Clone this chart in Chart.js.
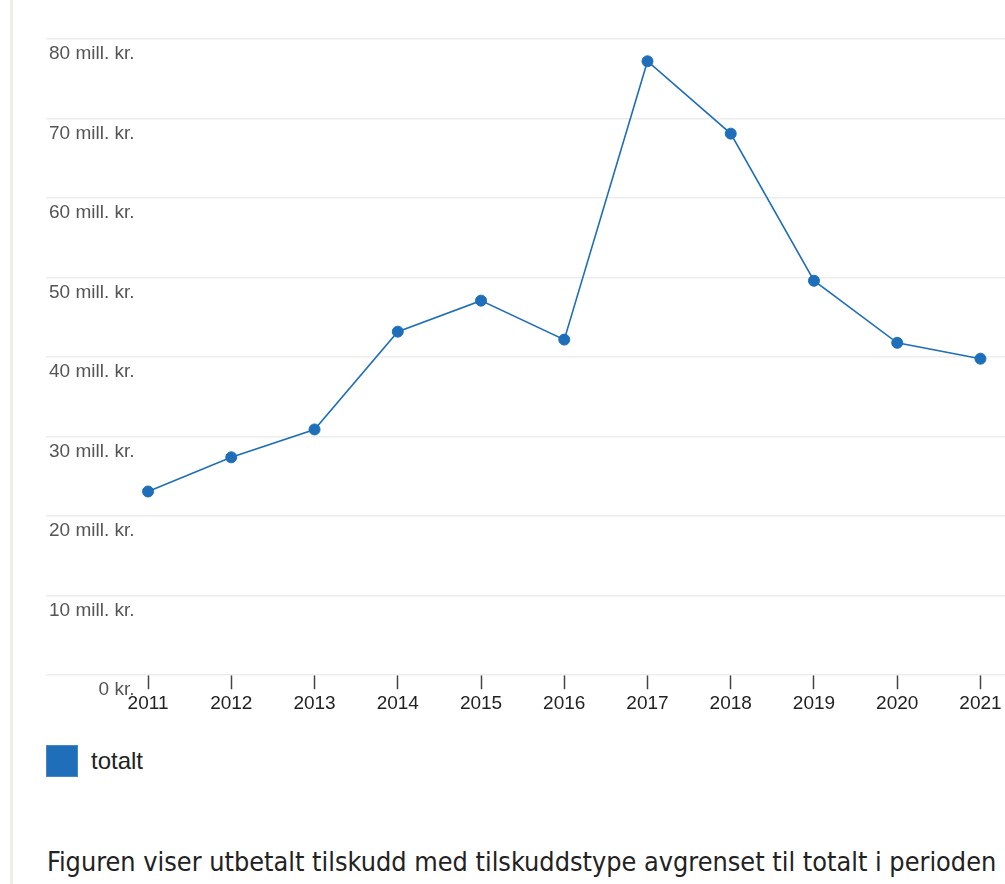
<!DOCTYPE html>
<html>
<head>
<meta charset="utf-8">
<script src="https://cdn.jsdelivr.net/npm/chart.js@4"></script>
<style>
  html, body { margin: 0; padding: 0; background: #fff; }
  body { width: 1005px; height: 884px; position: relative; overflow: hidden; font-family: "Liberation Sans", Arial, sans-serif; }
  .side { position: absolute; left: 10px; top: 0; width: 3px; height: 884px; background: #f0ece8; }
  #wrap { position: absolute; left: 0; top: 0; width: 1005px; height: 725px; overflow: hidden; }
  #legend { position: absolute; left: 46px; top: 745px; display: flex; align-items: center; font-size: 24px; color: #222; }
  #legend .box { width: 30px; height: 30px; border: 1px solid #4a86c4; margin-right: 13px; }
  #caption { position: absolute; left: 47px; top: 846px; white-space: nowrap; font-family: "Liberation Sans Narrow", "DejaVu Sans Condensed", sans-serif; font-size: 26.8px; color: #222; }
</style>
</head>
<body>
<div class="side"></div>
<div id="wrap"><canvas id="chart" width="1020" height="725"></canvas></div>
<div id="legend"></div>
<div id="caption">Figuren viser utbetalt tilskudd med tilskuddstype avgrenset til totalt i perioden</div>
<script>
const years = [2011, 2012, 2013, 2014, 2015, 2016, 2017, 2018, 2019, 2020, 2021];
const totalt = [23.1, 27.4, 30.9, 43.2, 47.1, 42.2, 77.2, 68.1, 49.6, 41.8, 39.8];
const seriesName = 'totalt';
const blue = '#1f6eb9';

const ctx = document.getElementById('chart').getContext('2d');
const chart = new Chart(ctx, {
    type: 'line',
    data: {
        datasets: [
            {
                label: seriesName,
                data: years.map((y, i) => ({ x: y, y: totalt[i] })),
                borderColor: blue,
                backgroundColor: blue,
                borderWidth: 1.6,
                pointRadius: 5.5,
                pointBorderWidth: 1,
                pointBackgroundColor: blue,
                pointBorderColor: blue,
                tension: 0,
                fill: false
            }
        ]
    },
    options: {
        responsive: false,
        animation: false,
        layout: {
            padding: { left: 40, top: 39, right: 0, bottom: 7 }
        },
        plugins: {
            legend: { display: false },
            tooltip: { enabled: false }
        },
        scales: {
            x: {
                type: 'linear',
                min: 2009.774,
                max: 2021.397,
                afterBuildTicks: function (scale) {
                    scale.ticks = years.map(v => ({ value: v }));
                },
                grid: {
                    drawOnChartArea: false,
                    drawTicks: true,
                    tickLength: 14,
                    tickColor: '#444',
                    tickWidth: 1.5
                },
                border: { display: false },
                ticks: {
                    color: '#222',
                    padding: 3,
                    font: { size: 19, family: 'Liberation Sans, Arial, sans-serif' },
                    callback: function (value) {
                        return String(value);
                    }
                }
            },
            y: {
                min: 0,
                max: 80,
                grid: {
                    color: '#ededed',
                    lineWidth: 1.5,
                    drawTicks: false
                },
                border: { display: false },
                ticks: {
                    stepSize: 10,
                    mirror: true,
                    crossAlign: 'far',
                    padding: 3,
                    labelOffset: 15,
                    color: '#555',
                    font: { size: 19, family: 'Liberation Sans, Arial, sans-serif' },
                    callback: function (value) {
                        return value === 0 ? '0 kr.' : value + ' mill. kr.';
                    }
                }
            }
        }
    }
});

// legend from the dataset
const legend = document.getElementById('legend');
chart.data.datasets.forEach(ds => {
    const box = document.createElement('div');
    box.className = 'box';
    box.style.background = ds.borderColor;
    const label = document.createElement('span');
    label.textContent = ds.label;
    legend.appendChild(box);
    legend.appendChild(label);
});
</script>
</body>
</html>
